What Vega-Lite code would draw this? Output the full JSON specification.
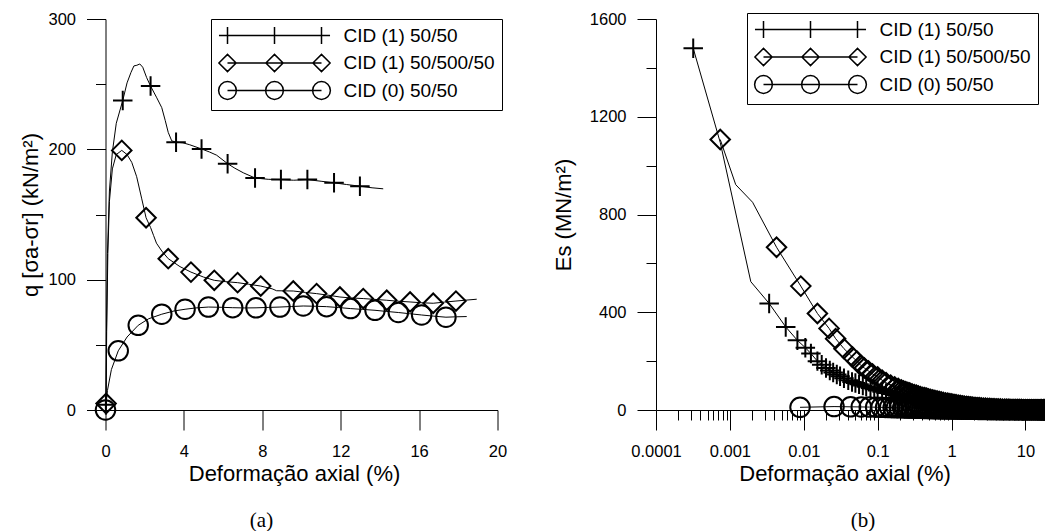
{
  "$schema": "https://vega.github.io/schema/vega-lite/v6.json",
  "padding": {"left": 19.5, "top": 11, "right": 0, "bottom": 0},
  "background": "white",
  "spacing": 44.5,
  "resolve": {"scale": {"x": "independent", "y": "independent", "shape": "independent"}, "legend": {"shape": "independent"}},
  "config": {
    "font": "Liberation Sans",
    "view": {"stroke": null},
    "axis": {"domainColor": "black", "tickColor": "black", "labelColor": "black", "titleColor": "black", "labelFont": "Liberation Sans", "titleFont": "Liberation Sans", "labelFontSize": 16.5, "titleFontSize": 22, "titleFontWeight": "normal", "grid": false, "domainWidth": 1, "tickWidth": 1, "labelOverlap": false, "labelFlush": false},
    "legend": {"labelFont": "Liberation Sans", "labelFontSize": 19, "labelColor": "black", "labelOffset": 59.5, "symbolOffset": 47, "labelLimit": 400, "padding": 7, "rowPadding": 2.5, "strokeColor": "black", "fillColor": "white", "symbolSize": 256, "symbolStrokeWidth": 1.5, "symbolStrokeColor": "black", "symbolFillColor": "transparent", "symbolOpacity": 1},
    "title": {"font": "Liberation Serif", "fontSize": 21, "fontWeight": "normal", "color": "black"}
  },
  "hconcat": [
    {
      "width": 392,
      "height": 391,
      "title": {"text": "(a)", "orient": "bottom", "frame": "group", "anchor": "middle", "dx": -40, "offset": 25},
      "resolve": {"scale": {"shape": "independent"}, "legend": {"shape": "independent"}},
      "data": {"values": [
        {"s": "CID (1) 50/50", "x": 0, "y": 0, "m": 0},
        {"s": "CID (1) 50/50", "x": 0.02, "y": 4, "m": 1},
        {"s": "CID (1) 50/50", "x": 0.05, "y": 60, "m": 0},
        {"s": "CID (1) 50/50", "x": 0.1, "y": 120, "m": 0},
        {"s": "CID (1) 50/50", "x": 0.2, "y": 168, "m": 0},
        {"s": "CID (1) 50/50", "x": 0.35, "y": 198, "m": 0},
        {"s": "CID (1) 50/50", "x": 0.55, "y": 220, "m": 0},
        {"s": "CID (1) 50/50", "x": 0.88, "y": 237.5, "m": 1},
        {"s": "CID (1) 50/50", "x": 1.1, "y": 251, "m": 0},
        {"s": "CID (1) 50/50", "x": 1.3, "y": 259, "m": 0},
        {"s": "CID (1) 50/50", "x": 1.45, "y": 264, "m": 0},
        {"s": "CID (1) 50/50", "x": 1.6, "y": 264.5, "m": 0},
        {"s": "CID (1) 50/50", "x": 1.75, "y": 265.5, "m": 0},
        {"s": "CID (1) 50/50", "x": 1.9, "y": 263, "m": 0},
        {"s": "CID (1) 50/50", "x": 2.1, "y": 255, "m": 0},
        {"s": "CID (1) 50/50", "x": 2.3, "y": 248.5, "m": 1},
        {"s": "CID (1) 50/50", "x": 2.6, "y": 240, "m": 0},
        {"s": "CID (1) 50/50", "x": 2.87, "y": 232, "m": 0},
        {"s": "CID (1) 50/50", "x": 3.05, "y": 222, "m": 0},
        {"s": "CID (1) 50/50", "x": 3.2, "y": 213, "m": 0},
        {"s": "CID (1) 50/50", "x": 3.38, "y": 206.5, "m": 0},
        {"s": "CID (1) 50/50", "x": 3.6, "y": 205.5, "m": 1},
        {"s": "CID (1) 50/50", "x": 3.95, "y": 205, "m": 0},
        {"s": "CID (1) 50/50", "x": 4.3, "y": 203.5, "m": 0},
        {"s": "CID (1) 50/50", "x": 4.9, "y": 200.3, "m": 1},
        {"s": "CID (1) 50/50", "x": 5.3, "y": 198, "m": 0},
        {"s": "CID (1) 50/50", "x": 5.67, "y": 195.5, "m": 0},
        {"s": "CID (1) 50/50", "x": 6.23, "y": 189, "m": 1},
        {"s": "CID (1) 50/50", "x": 6.6, "y": 185.5, "m": 0},
        {"s": "CID (1) 50/50", "x": 7.03, "y": 182, "m": 0},
        {"s": "CID (1) 50/50", "x": 7.63, "y": 178, "m": 1},
        {"s": "CID (1) 50/50", "x": 8.3, "y": 177, "m": 0},
        {"s": "CID (1) 50/50", "x": 8.95, "y": 176.8, "m": 1},
        {"s": "CID (1) 50/50", "x": 9.6, "y": 176.3, "m": 0},
        {"s": "CID (1) 50/50", "x": 10.3, "y": 176.8, "m": 1},
        {"s": "CID (1) 50/50", "x": 11, "y": 175.5, "m": 0},
        {"s": "CID (1) 50/50", "x": 11.66, "y": 174.3, "m": 1},
        {"s": "CID (1) 50/50", "x": 12.3, "y": 173, "m": 0},
        {"s": "CID (1) 50/50", "x": 12.98, "y": 171.7, "m": 1},
        {"s": "CID (1) 50/50", "x": 13.6, "y": 170.5, "m": 0},
        {"s": "CID (1) 50/50", "x": 14.17, "y": 169.7, "m": 0},
        {"s": "CID (1) 50/500/50", "x": 0, "y": 0, "m": 0},
        {"s": "CID (1) 50/500/50", "x": 0.03, "y": 5, "m": 1},
        {"s": "CID (1) 50/500/50", "x": 0.06, "y": 60, "m": 0},
        {"s": "CID (1) 50/500/50", "x": 0.12, "y": 120, "m": 0},
        {"s": "CID (1) 50/500/50", "x": 0.2, "y": 160, "m": 0},
        {"s": "CID (1) 50/500/50", "x": 0.35, "y": 185, "m": 0},
        {"s": "CID (1) 50/500/50", "x": 0.55, "y": 196, "m": 0},
        {"s": "CID (1) 50/500/50", "x": 0.83, "y": 199.2, "m": 1},
        {"s": "CID (1) 50/500/50", "x": 1.1, "y": 196, "m": 0},
        {"s": "CID (1) 50/500/50", "x": 1.34, "y": 190, "m": 0},
        {"s": "CID (1) 50/500/50", "x": 1.59, "y": 179, "m": 0},
        {"s": "CID (1) 50/500/50", "x": 1.85, "y": 162, "m": 0},
        {"s": "CID (1) 50/500/50", "x": 2.07, "y": 147.5, "m": 1},
        {"s": "CID (1) 50/500/50", "x": 2.3, "y": 140, "m": 0},
        {"s": "CID (1) 50/500/50", "x": 2.45, "y": 134, "m": 0},
        {"s": "CID (1) 50/500/50", "x": 2.6, "y": 128, "m": 0},
        {"s": "CID (1) 50/500/50", "x": 2.87, "y": 122, "m": 0},
        {"s": "CID (1) 50/500/50", "x": 3.2, "y": 116.1, "m": 1},
        {"s": "CID (1) 50/500/50", "x": 3.8, "y": 110, "m": 0},
        {"s": "CID (1) 50/500/50", "x": 4.36, "y": 105.8, "m": 1},
        {"s": "CID (1) 50/500/50", "x": 5, "y": 102, "m": 0},
        {"s": "CID (1) 50/500/50", "x": 5.55, "y": 99.5, "m": 1},
        {"s": "CID (1) 50/500/50", "x": 6.1, "y": 98.5, "m": 0},
        {"s": "CID (1) 50/500/50", "x": 6.74, "y": 97.7, "m": 1},
        {"s": "CID (1) 50/500/50", "x": 7.3, "y": 96.5, "m": 0},
        {"s": "CID (1) 50/500/50", "x": 7.92, "y": 95.1, "m": 1},
        {"s": "CID (1) 50/500/50", "x": 8.5, "y": 93, "m": 0},
        {"s": "CID (1) 50/500/50", "x": 8.73, "y": 91.5, "m": 0},
        {"s": "CID (1) 50/500/50", "x": 9.58, "y": 91.3, "m": 1},
        {"s": "CID (1) 50/500/50", "x": 10.2, "y": 90.2, "m": 0},
        {"s": "CID (1) 50/500/50", "x": 10.77, "y": 89.3, "m": 1},
        {"s": "CID (1) 50/500/50", "x": 11.4, "y": 88, "m": 0},
        {"s": "CID (1) 50/500/50", "x": 11.96, "y": 86.7, "m": 1},
        {"s": "CID (1) 50/500/50", "x": 12.5, "y": 86, "m": 0},
        {"s": "CID (1) 50/500/50", "x": 13.15, "y": 85.5, "m": 1},
        {"s": "CID (1) 50/500/50", "x": 13.8, "y": 84.8, "m": 0},
        {"s": "CID (1) 50/500/50", "x": 14.35, "y": 84.2, "m": 1},
        {"s": "CID (1) 50/500/50", "x": 14.9, "y": 83.5, "m": 0},
        {"s": "CID (1) 50/500/50", "x": 15.54, "y": 82.9, "m": 1},
        {"s": "CID (1) 50/500/50", "x": 16.1, "y": 82.3, "m": 0},
        {"s": "CID (1) 50/500/50", "x": 16.72, "y": 81.9, "m": 1},
        {"s": "CID (1) 50/500/50", "x": 17.3, "y": 82.8, "m": 0},
        {"s": "CID (1) 50/500/50", "x": 17.88, "y": 83.6, "m": 1},
        {"s": "CID (1) 50/500/50", "x": 18.4, "y": 84.3, "m": 0},
        {"s": "CID (1) 50/500/50", "x": 18.94, "y": 85, "m": 0},
        {"s": "CID (0) 50/50", "x": 0, "y": 0, "m": 1},
        {"s": "CID (0) 50/50", "x": 0.1, "y": 15, "m": 0},
        {"s": "CID (0) 50/50", "x": 0.3, "y": 31, "m": 0},
        {"s": "CID (0) 50/50", "x": 0.65, "y": 45.4, "m": 1},
        {"s": "CID (0) 50/50", "x": 1.1, "y": 56, "m": 0},
        {"s": "CID (0) 50/50", "x": 1.67, "y": 65, "m": 1},
        {"s": "CID (0) 50/50", "x": 2.2, "y": 70, "m": 0},
        {"s": "CID (0) 50/50", "x": 2.87, "y": 73.5, "m": 1},
        {"s": "CID (0) 50/50", "x": 3.5, "y": 76, "m": 0},
        {"s": "CID (0) 50/50", "x": 4.06, "y": 77.3, "m": 1},
        {"s": "CID (0) 50/50", "x": 4.6, "y": 78.3, "m": 0},
        {"s": "CID (0) 50/50", "x": 5.25, "y": 79, "m": 1},
        {"s": "CID (0) 50/50", "x": 5.9, "y": 78.8, "m": 0},
        {"s": "CID (0) 50/50", "x": 6.49, "y": 78.5, "m": 1},
        {"s": "CID (0) 50/50", "x": 7.1, "y": 78.3, "m": 0},
        {"s": "CID (0) 50/50", "x": 7.68, "y": 78.4, "m": 1},
        {"s": "CID (0) 50/50", "x": 8.3, "y": 78.7, "m": 0},
        {"s": "CID (0) 50/50", "x": 8.9, "y": 79, "m": 1},
        {"s": "CID (0) 50/50", "x": 9.5, "y": 79.4, "m": 0},
        {"s": "CID (0) 50/50", "x": 10.09, "y": 79.8, "m": 1},
        {"s": "CID (0) 50/50", "x": 10.7, "y": 79.6, "m": 0},
        {"s": "CID (0) 50/50", "x": 11.28, "y": 79.3, "m": 1},
        {"s": "CID (0) 50/50", "x": 11.9, "y": 78.6, "m": 0},
        {"s": "CID (0) 50/50", "x": 12.51, "y": 77.8, "m": 1},
        {"s": "CID (0) 50/50", "x": 13.1, "y": 77.2, "m": 0},
        {"s": "CID (0) 50/50", "x": 13.75, "y": 76.5, "m": 1},
        {"s": "CID (0) 50/50", "x": 14.35, "y": 75.6, "m": 0},
        {"s": "CID (0) 50/50", "x": 14.94, "y": 74.8, "m": 1},
        {"s": "CID (0) 50/50", "x": 15.5, "y": 73.9, "m": 0},
        {"s": "CID (0) 50/50", "x": 16.13, "y": 72.9, "m": 1},
        {"s": "CID (0) 50/50", "x": 16.75, "y": 72, "m": 0},
        {"s": "CID (0) 50/50", "x": 17.37, "y": 71.2, "m": 1},
        {"s": "CID (0) 50/50", "x": 17.9, "y": 71.5, "m": 0},
        {"s": "CID (0) 50/50", "x": 18.43, "y": 71.7, "m": 0}
      ]},
      "layer": [
        {
          "mark": {"type": "line", "color": "black", "strokeWidth": 1},
          "encoding": {
            "x": {"field": "x", "type": "quantitative", "scale": {"domain": [0, 20], "nice": false, "zero": false},
              "axis": {"title": "Deformação axial (%)", "values": [0,1,2,3,4,5,6,7,8,9,10,11,12,13,14,15,16,17,18,19,20],
                "tickSize": {"condition": {"test": "datum.value % 4 == 0", "value": 20}, "value": 10},
                "labelExpr": "datum.value % 4 == 0 ? datum.label : ''", "labelPadding": 13, "titlePadding": 4, "titleX": 188.5}},
            "y": {"field": "y", "type": "quantitative", "scale": {"domain": [0, 300], "nice": false},
              "axis": {"title": "q [σa-σr] (kN/m²)", "values": [0,25,50,75,100,125,150,175,200,225,250,275,300],
                "tickSize": {"condition": {"test": "datum.value % 100 == 0", "value": 19}, "value": 10},
                "labelExpr": "datum.value % 100 == 0 ? datum.label : ''", "labelPadding": 11, "titlePadding": 5}},
            "detail": {"field": "s"}
          }
        },
        {
          "transform": [{"filter": "datum.m == 1"}],
          "mark": {"type": "point", "filled": false, "color": "black", "strokeWidth": 2, "size": 380, "opacity": 1},
          "encoding": {
            "x": {"field": "x", "type": "quantitative"},
            "y": {"field": "y", "type": "quantitative"},
            "shape": {"field": "s", "type": "nominal", "legend": null,
              "scale": {"domain": ["CID (1) 50/50", "CID (1) 50/500/50", "CID (0) 50/50"], "range": ["M-1,0H1M0,-1V1", "diamond", "circle"]}}
          }
        },
        {
          "transform": [{"filter": "datum.m == 9"}],
          "mark": {"type": "point", "filled": false, "color": "black", "strokeWidth": 1.5},
          "encoding": {
            "x": {"field": "x", "type": "quantitative"},
            "y": {"field": "y", "type": "quantitative"},
            "shape": {"field": "s", "type": "nominal",
              "scale": {"domain": ["CID (1) 50/50", "CID (1) 50/500/50", "CID (0) 50/50"], "range": [
                "M-6.94,0H6.94M-5.875,-1.075V1.075M0,-1.075V1.075M5.875,-1.075V1.075",
                "M-5.875,0H5.875M-6.95,0L-5.875,-1.075L-4.8,0L-5.875,1.075ZM-1.075,0L0,-1.075L1.075,0L0,1.075ZM4.8,0L5.875,-1.075L6.95,0L5.875,1.075Z",
                "M-5.875,0H5.875M-6.985,0A1.11,1.11,0,1,0,-4.765,0A1.11,1.11,0,1,0,-6.985,0ZM-1.11,0A1.11,1.11,0,1,0,1.11,0A1.11,1.11,0,1,0,-1.11,0ZM4.765,0A1.11,1.11,0,1,0,6.985,0A1.11,1.11,0,1,0,4.765,0Z"]},
              "legend": {"title": null, "orient": "none", "legendX": 105.5, "legendY": 0}}
          }
        }
      ]
    },
    {
      "width": 390,
      "height": 391,
      "title": {"text": "(b)", "orient": "bottom", "frame": "group", "anchor": "middle", "dx": 12, "offset": 25},
      "resolve": {"scale": {"shape": "independent"}, "legend": {"shape": "independent"}},
      "data": {"values": [
        {"s": "CID (1) 50/50", "x": 0.000319, "y": 1480, "m": 1},
        {"s": "CID (1) 50/50", "x": 0.00074, "y": 1095, "m": 0},
        {"s": "CID (1) 50/50", "x": 0.00192, "y": 525, "m": 0},
        {"s": "CID (1) 50/50", "x": 0.0034, "y": 436, "m": 1},
        {"s": "CID (1) 50/50", "x": 0.0057, "y": 340, "m": 1},
        {"s": "CID (1) 50/50", "x": 0.0082, "y": 285, "m": 1},
        {"s": "CID (1) 50/50", "x": 0.0105, "y": 255, "m": 1},
        {"s": "CID (1) 50/50", "x": 0.0125, "y": 231, "m": 1},
        {"s": "CID (1) 50/50", "x": 0.0153, "y": 200, "m": 1},
        {"s": "CID (1) 50/50", "x": 0.0175, "y": 185, "m": 1},
        {"s": "CID (1) 50/50", "x": 0.02, "y": 172, "m": 1},
        {"s": "CID (1) 50/50", "x": 0.0225, "y": 162, "m": 1},
        {"s": "CID (1) 50/50", "x": 0.025, "y": 153, "m": 1},
        {"s": "CID (1) 50/50", "x": 0.028, "y": 145, "m": 1},
        {"s": "CID (1) 50/50", "x": 0.031, "y": 138, "m": 1},
        {"s": "CID (1) 50/50", "x": 0.035, "y": 130, "m": 1},
        {"s": "CID (1) 50/50", "x": 0.04, "y": 122, "m": 1},
        {"s": "CID (1) 50/50", "x": 0.045, "y": 115, "m": 1},
        {"s": "CID (1) 50/50", "x": 0.05, "y": 110, "m": 1},
        {"s": "CID (1) 50/50", "x": 0.056, "y": 105, "m": 1},
        {"s": "CID (1) 50/50", "x": 0.063, "y": 100, "m": 1},
        {"s": "CID (1) 50/50", "x": 0.07, "y": 95, "m": 1},
        {"s": "CID (1) 50/50", "x": 0.08, "y": 90, "m": 1},
        {"s": "CID (1) 50/50", "x": 0.09, "y": 85, "m": 1},
        {"s": "CID (1) 50/50", "x": 0.1, "y": 80, "m": 1},
        {"s": "CID (1) 50/50", "x": 0.115, "y": 75, "m": 1},
        {"s": "CID (1) 50/50", "x": 0.13, "y": 70, "m": 1},
        {"s": "CID (1) 50/50", "x": 0.15, "y": 65, "m": 1},
        {"s": "CID (1) 50/50", "x": 0.17, "y": 61, "m": 1},
        {"s": "CID (1) 50/50", "x": 0.185, "y": 58, "m": 1},
        {"s": "CID (1) 50/50", "x": 0.2, "y": 56, "m": 1},
        {"s": "CID (1) 50/50", "x": 0.215, "y": 54, "m": 1},
        {"s": "CID (1) 50/50", "x": 0.23, "y": 52, "m": 1},
        {"s": "CID (1) 50/50", "x": 0.245, "y": 50.5, "m": 1},
        {"s": "CID (1) 50/50", "x": 0.26, "y": 49, "m": 1},
        {"s": "CID (1) 50/50", "x": 0.28, "y": 47.5, "m": 1},
        {"s": "CID (1) 50/50", "x": 0.3, "y": 46, "m": 1},
        {"s": "CID (1) 50/50", "x": 0.32, "y": 44.5, "m": 1},
        {"s": "CID (1) 50/50", "x": 0.34, "y": 43, "m": 1},
        {"s": "CID (1) 50/50", "x": 0.365, "y": 41.5, "m": 1},
        {"s": "CID (1) 50/50", "x": 0.39, "y": 40, "m": 1},
        {"s": "CID (1) 50/50", "x": 0.415, "y": 38.7, "m": 1},
        {"s": "CID (1) 50/50", "x": 0.44, "y": 37.5, "m": 1},
        {"s": "CID (1) 50/50", "x": 0.47, "y": 36.2, "m": 1},
        {"s": "CID (1) 50/50", "x": 0.5, "y": 35, "m": 1},
        {"s": "CID (1) 50/50", "x": 0.535, "y": 33.7, "m": 1},
        {"s": "CID (1) 50/50", "x": 0.57, "y": 32.5, "m": 1},
        {"s": "CID (1) 50/50", "x": 0.61, "y": 31.2, "m": 1},
        {"s": "CID (1) 50/50", "x": 0.65, "y": 30, "m": 1},
        {"s": "CID (1) 50/50", "x": 0.695, "y": 29, "m": 1},
        {"s": "CID (1) 50/50", "x": 0.74, "y": 28, "m": 1},
        {"s": "CID (1) 50/50", "x": 0.795, "y": 27, "m": 1},
        {"s": "CID (1) 50/50", "x": 0.85, "y": 26, "m": 1},
        {"s": "CID (1) 50/50", "x": 0.91, "y": 25.2, "m": 1},
        {"s": "CID (1) 50/50", "x": 0.97, "y": 24.5, "m": 1},
        {"s": "CID (1) 50/50", "x": 1.04, "y": 23.5, "m": 1},
        {"s": "CID (1) 50/50", "x": 1.1, "y": 22.5, "m": 1},
        {"s": "CID (1) 50/50", "x": 1.17, "y": 21.2, "m": 1},
        {"s": "CID (1) 50/50", "x": 1.25, "y": 20, "m": 1},
        {"s": "CID (1) 50/50", "x": 1.34, "y": 19, "m": 1},
        {"s": "CID (1) 50/50", "x": 1.43, "y": 18, "m": 1},
        {"s": "CID (1) 50/50", "x": 1.53, "y": 17, "m": 1},
        {"s": "CID (1) 50/50", "x": 1.63, "y": 16, "m": 1},
        {"s": "CID (1) 50/50", "x": 1.74, "y": 15, "m": 1},
        {"s": "CID (1) 50/50", "x": 1.86, "y": 14, "m": 1},
        {"s": "CID (1) 50/50", "x": 1.99, "y": 13.1, "m": 1},
        {"s": "CID (1) 50/50", "x": 2.12, "y": 12.2, "m": 1},
        {"s": "CID (1) 50/50", "x": 2.27, "y": 11.3, "m": 1},
        {"s": "CID (1) 50/50", "x": 2.42, "y": 10.5, "m": 1},
        {"s": "CID (1) 50/50", "x": 2.59, "y": 9.6, "m": 1},
        {"s": "CID (1) 50/50", "x": 2.76, "y": 8.8, "m": 1},
        {"s": "CID (1) 50/50", "x": 2.95, "y": 8, "m": 1},
        {"s": "CID (1) 50/50", "x": 3.15, "y": 7.2, "m": 1},
        {"s": "CID (1) 50/50", "x": 3.37, "y": 6.6, "m": 1},
        {"s": "CID (1) 50/50", "x": 3.6, "y": 6, "m": 1},
        {"s": "CID (1) 50/50", "x": 3.85, "y": 5.5, "m": 1},
        {"s": "CID (1) 50/50", "x": 4.1, "y": 5.1, "m": 1},
        {"s": "CID (1) 50/50", "x": 4.4, "y": 4.7, "m": 1},
        {"s": "CID (1) 50/50", "x": 4.7, "y": 4.3, "m": 1},
        {"s": "CID (1) 50/50", "x": 5.02, "y": 4, "m": 1},
        {"s": "CID (1) 50/50", "x": 5.35, "y": 3.7, "m": 1},
        {"s": "CID (1) 50/50", "x": 5.72, "y": 3.4, "m": 1},
        {"s": "CID (1) 50/50", "x": 6.1, "y": 3.1, "m": 1},
        {"s": "CID (1) 50/50", "x": 6.52, "y": 2.85, "m": 1},
        {"s": "CID (1) 50/50", "x": 6.95, "y": 2.6, "m": 1},
        {"s": "CID (1) 50/50", "x": 7.42, "y": 2.45, "m": 1},
        {"s": "CID (1) 50/50", "x": 7.9, "y": 2.3, "m": 1},
        {"s": "CID (1) 50/50", "x": 8.45, "y": 2.15, "m": 1},
        {"s": "CID (1) 50/50", "x": 9, "y": 2, "m": 1},
        {"s": "CID (1) 50/50", "x": 9.65, "y": 1.87, "m": 1},
        {"s": "CID (1) 50/50", "x": 10.3, "y": 1.75, "m": 1},
        {"s": "CID (1) 50/50", "x": 11, "y": 1.62, "m": 1},
        {"s": "CID (1) 50/50", "x": 11.7, "y": 1.5, "m": 1},
        {"s": "CID (1) 50/50", "x": 12.5, "y": 1.4, "m": 1},
        {"s": "CID (1) 50/50", "x": 13.3, "y": 1.3, "m": 1},
        {"s": "CID (1) 50/50", "x": 13.8, "y": 1.25, "m": 1},
        {"s": "CID (1) 50/50", "x": 14.2, "y": 1.2, "m": 1},
        {"s": "CID (1) 50/500/50", "x": 0.00074, "y": 1107, "m": 1},
        {"s": "CID (1) 50/500/50", "x": 0.0012, "y": 922, "m": 0},
        {"s": "CID (1) 50/500/50", "x": 0.00203, "y": 850, "m": 0},
        {"s": "CID (1) 50/500/50", "x": 0.00428, "y": 666, "m": 1},
        {"s": "CID (1) 50/500/50", "x": 0.00912, "y": 507, "m": 1},
        {"s": "CID (1) 50/500/50", "x": 0.0153, "y": 395, "m": 1},
        {"s": "CID (1) 50/500/50", "x": 0.022, "y": 334, "m": 1},
        {"s": "CID (1) 50/500/50", "x": 0.027, "y": 292, "m": 1},
        {"s": "CID (1) 50/500/50", "x": 0.035, "y": 251, "m": 1},
        {"s": "CID (1) 50/500/50", "x": 0.0455, "y": 217, "m": 1},
        {"s": "CID (1) 50/500/50", "x": 0.0525, "y": 200, "m": 1},
        {"s": "CID (1) 50/500/50", "x": 0.0589, "y": 183, "m": 1},
        {"s": "CID (1) 50/500/50", "x": 0.066, "y": 172, "m": 1},
        {"s": "CID (1) 50/500/50", "x": 0.075, "y": 160, "m": 1},
        {"s": "CID (1) 50/500/50", "x": 0.085, "y": 148, "m": 1},
        {"s": "CID (1) 50/500/50", "x": 0.1, "y": 135, "m": 1},
        {"s": "CID (1) 50/500/50", "x": 0.115, "y": 122, "m": 1},
        {"s": "CID (1) 50/500/50", "x": 0.13, "y": 112, "m": 1},
        {"s": "CID (1) 50/500/50", "x": 0.15, "y": 102, "m": 1},
        {"s": "CID (1) 50/500/50", "x": 0.17, "y": 94, "m": 1},
        {"s": "CID (1) 50/500/50", "x": 0.19, "y": 88, "m": 1},
        {"s": "CID (1) 50/500/50", "x": 0.209, "y": 82, "m": 1},
        {"s": "CID (1) 50/500/50", "x": 0.224, "y": 78.5, "m": 1},
        {"s": "CID (1) 50/500/50", "x": 0.24, "y": 75, "m": 1},
        {"s": "CID (1) 50/500/50", "x": 0.256, "y": 72, "m": 1},
        {"s": "CID (1) 50/500/50", "x": 0.272, "y": 69.5, "m": 1},
        {"s": "CID (1) 50/500/50", "x": 0.292, "y": 66, "m": 1},
        {"s": "CID (1) 50/500/50", "x": 0.313, "y": 63, "m": 1},
        {"s": "CID (1) 50/500/50", "x": 0.334, "y": 60.5, "m": 1},
        {"s": "CID (1) 50/500/50", "x": 0.355, "y": 58, "m": 1},
        {"s": "CID (1) 50/500/50", "x": 0.38, "y": 55, "m": 1},
        {"s": "CID (1) 50/500/50", "x": 0.407, "y": 52, "m": 1},
        {"s": "CID (1) 50/500/50", "x": 0.433, "y": 50, "m": 1},
        {"s": "CID (1) 50/500/50", "x": 0.46, "y": 48, "m": 1},
        {"s": "CID (1) 50/500/50", "x": 0.49, "y": 45.7, "m": 1},
        {"s": "CID (1) 50/500/50", "x": 0.52, "y": 43.5, "m": 1},
        {"s": "CID (1) 50/500/50", "x": 0.557, "y": 41.3, "m": 1},
        {"s": "CID (1) 50/500/50", "x": 0.595, "y": 39.3, "m": 1},
        {"s": "CID (1) 50/500/50", "x": 0.637, "y": 37, "m": 1},
        {"s": "CID (1) 50/500/50", "x": 0.68, "y": 35, "m": 1},
        {"s": "CID (1) 50/500/50", "x": 0.725, "y": 33, "m": 1},
        {"s": "CID (1) 50/500/50", "x": 0.773, "y": 31, "m": 1},
        {"s": "CID (1) 50/500/50", "x": 0.83, "y": 29.3, "m": 1},
        {"s": "CID (1) 50/500/50", "x": 0.89, "y": 27.8, "m": 1},
        {"s": "CID (1) 50/500/50", "x": 0.95, "y": 26.2, "m": 1},
        {"s": "CID (1) 50/500/50", "x": 1.01, "y": 24.8, "m": 1},
        {"s": "CID (1) 50/500/50", "x": 1.08, "y": 23.2, "m": 1},
        {"s": "CID (1) 50/500/50", "x": 1.15, "y": 21.6, "m": 1},
        {"s": "CID (1) 50/500/50", "x": 1.23, "y": 20, "m": 1},
        {"s": "CID (1) 50/500/50", "x": 1.31, "y": 18.5, "m": 1},
        {"s": "CID (1) 50/500/50", "x": 1.4, "y": 17.1, "m": 1},
        {"s": "CID (1) 50/500/50", "x": 1.49, "y": 15.8, "m": 1},
        {"s": "CID (1) 50/500/50", "x": 1.6, "y": 14.6, "m": 1},
        {"s": "CID (1) 50/500/50", "x": 1.7, "y": 13.5, "m": 1},
        {"s": "CID (1) 50/500/50", "x": 1.82, "y": 12.4, "m": 1},
        {"s": "CID (1) 50/500/50", "x": 1.94, "y": 11.4, "m": 1},
        {"s": "CID (1) 50/500/50", "x": 2.08, "y": 10.6, "m": 1},
        {"s": "CID (1) 50/500/50", "x": 2.22, "y": 9.9, "m": 1},
        {"s": "CID (1) 50/500/50", "x": 2.37, "y": 9.1, "m": 1},
        {"s": "CID (1) 50/500/50", "x": 2.53, "y": 8.3, "m": 1},
        {"s": "CID (1) 50/500/50", "x": 2.7, "y": 7.7, "m": 1},
        {"s": "CID (1) 50/500/50", "x": 2.88, "y": 7.1, "m": 1},
        {"s": "CID (1) 50/500/50", "x": 3.08, "y": 6.5, "m": 1},
        {"s": "CID (1) 50/500/50", "x": 3.29, "y": 6, "m": 1},
        {"s": "CID (1) 50/500/50", "x": 3.52, "y": 5.6, "m": 1},
        {"s": "CID (1) 50/500/50", "x": 3.76, "y": 5.2, "m": 1},
        {"s": "CID (1) 50/500/50", "x": 4.02, "y": 4.85, "m": 1},
        {"s": "CID (1) 50/500/50", "x": 4.28, "y": 4.5, "m": 1},
        {"s": "CID (1) 50/500/50", "x": 4.58, "y": 4.15, "m": 1},
        {"s": "CID (1) 50/500/50", "x": 4.9, "y": 3.8, "m": 1},
        {"s": "CID (1) 50/500/50", "x": 5.25, "y": 3.5, "m": 1},
        {"s": "CID (1) 50/500/50", "x": 5.6, "y": 3.25, "m": 1},
        {"s": "CID (1) 50/500/50", "x": 5.98, "y": 3, "m": 1},
        {"s": "CID (1) 50/500/50", "x": 6.37, "y": 2.75, "m": 1},
        {"s": "CID (1) 50/500/50", "x": 6.8, "y": 2.6, "m": 1},
        {"s": "CID (1) 50/500/50", "x": 7.26, "y": 2.4, "m": 1},
        {"s": "CID (1) 50/500/50", "x": 7.75, "y": 2.25, "m": 1},
        {"s": "CID (1) 50/500/50", "x": 8.25, "y": 2.1, "m": 1},
        {"s": "CID (1) 50/500/50", "x": 8.8, "y": 1.97, "m": 1},
        {"s": "CID (1) 50/500/50", "x": 9.4, "y": 1.85, "m": 1},
        {"s": "CID (1) 50/500/50", "x": 10.05, "y": 1.72, "m": 1},
        {"s": "CID (1) 50/500/50", "x": 10.75, "y": 1.6, "m": 1},
        {"s": "CID (1) 50/500/50", "x": 11.45, "y": 1.5, "m": 1},
        {"s": "CID (1) 50/500/50", "x": 12.2, "y": 1.4, "m": 1},
        {"s": "CID (1) 50/500/50", "x": 13.05, "y": 1.3, "m": 1},
        {"s": "CID (1) 50/500/50", "x": 13.9, "y": 1.2, "m": 1},
        {"s": "CID (1) 50/500/50", "x": 14.8, "y": 1.12, "m": 1},
        {"s": "CID (1) 50/500/50", "x": 15.8, "y": 1.05, "m": 1},
        {"s": "CID (1) 50/500/50", "x": 16.6, "y": 1.02, "m": 1},
        {"s": "CID (1) 50/500/50", "x": 17.5, "y": 0.98, "m": 1},
        {"s": "CID (1) 50/500/50", "x": 18.2, "y": 0.94, "m": 1},
        {"s": "CID (1) 50/500/50", "x": 18.9, "y": 0.9, "m": 1},
        {"s": "CID (0) 50/50", "x": 0.0089, "y": 11, "m": 1},
        {"s": "CID (0) 50/50", "x": 0.0257, "y": 14, "m": 1},
        {"s": "CID (0) 50/50", "x": 0.043, "y": 13, "m": 1},
        {"s": "CID (0) 50/50", "x": 0.06, "y": 12.5, "m": 1},
        {"s": "CID (0) 50/50", "x": 0.077, "y": 12, "m": 1},
        {"s": "CID (0) 50/50", "x": 0.094, "y": 11.5, "m": 1},
        {"s": "CID (0) 50/50", "x": 0.111, "y": 11, "m": 1},
        {"s": "CID (0) 50/50", "x": 0.128, "y": 10.5, "m": 1},
        {"s": "CID (0) 50/50", "x": 0.145, "y": 10.1, "m": 1},
        {"s": "CID (0) 50/50", "x": 0.162, "y": 9.7, "m": 1},
        {"s": "CID (0) 50/50", "x": 0.179, "y": 9.3, "m": 1},
        {"s": "CID (0) 50/50", "x": 0.196, "y": 9, "m": 1},
        {"s": "CID (0) 50/50", "x": 0.218, "y": 8.7, "m": 1},
        {"s": "CID (0) 50/50", "x": 0.234, "y": 8.5, "m": 1},
        {"s": "CID (0) 50/50", "x": 0.25, "y": 8.3, "m": 1},
        {"s": "CID (0) 50/50", "x": 0.266, "y": 8.1, "m": 1},
        {"s": "CID (0) 50/50", "x": 0.283, "y": 7.9, "m": 1},
        {"s": "CID (0) 50/50", "x": 0.305, "y": 7.7, "m": 1},
        {"s": "CID (0) 50/50", "x": 0.327, "y": 7.5, "m": 1},
        {"s": "CID (0) 50/50", "x": 0.348, "y": 7.25, "m": 1},
        {"s": "CID (0) 50/50", "x": 0.37, "y": 7, "m": 1},
        {"s": "CID (0) 50/50", "x": 0.397, "y": 6.8, "m": 1},
        {"s": "CID (0) 50/50", "x": 0.425, "y": 6.6, "m": 1},
        {"s": "CID (0) 50/50", "x": 0.452, "y": 6.4, "m": 1},
        {"s": "CID (0) 50/50", "x": 0.48, "y": 6.2, "m": 1},
        {"s": "CID (0) 50/50", "x": 0.512, "y": 6, "m": 1},
        {"s": "CID (0) 50/50", "x": 0.545, "y": 5.8, "m": 1},
        {"s": "CID (0) 50/50", "x": 0.582, "y": 5.6, "m": 1},
        {"s": "CID (0) 50/50", "x": 0.62, "y": 5.4, "m": 1},
        {"s": "CID (0) 50/50", "x": 0.665, "y": 5.2, "m": 1},
        {"s": "CID (0) 50/50", "x": 0.71, "y": 5, "m": 1},
        {"s": "CID (0) 50/50", "x": 0.757, "y": 4.85, "m": 1},
        {"s": "CID (0) 50/50", "x": 0.806, "y": 4.7, "m": 1},
        {"s": "CID (0) 50/50", "x": 0.866, "y": 4.5, "m": 1},
        {"s": "CID (0) 50/50", "x": 0.93, "y": 4.3, "m": 1},
        {"s": "CID (0) 50/50", "x": 0.995, "y": 4.15, "m": 1},
        {"s": "CID (0) 50/50", "x": 1.06, "y": 4, "m": 1},
        {"s": "CID (0) 50/50", "x": 1.13, "y": 3.85, "m": 1},
        {"s": "CID (0) 50/50", "x": 1.2, "y": 3.7, "m": 1},
        {"s": "CID (0) 50/50", "x": 1.28, "y": 3.6, "m": 1},
        {"s": "CID (0) 50/50", "x": 1.36, "y": 3.45, "m": 1},
        {"s": "CID (0) 50/50", "x": 1.46, "y": 3.3, "m": 1},
        {"s": "CID (0) 50/50", "x": 1.56, "y": 3.15, "m": 1},
        {"s": "CID (0) 50/50", "x": 1.67, "y": 3.02, "m": 1},
        {"s": "CID (0) 50/50", "x": 1.78, "y": 2.9, "m": 1},
        {"s": "CID (0) 50/50", "x": 1.9, "y": 2.8, "m": 1},
        {"s": "CID (0) 50/50", "x": 2.03, "y": 2.7, "m": 1},
        {"s": "CID (0) 50/50", "x": 2.17, "y": 2.57, "m": 1},
        {"s": "CID (0) 50/50", "x": 2.31, "y": 2.45, "m": 1},
        {"s": "CID (0) 50/50", "x": 2.47, "y": 2.32, "m": 1},
        {"s": "CID (0) 50/50", "x": 2.64, "y": 2.2, "m": 1},
        {"s": "CID (0) 50/50", "x": 2.82, "y": 2.1, "m": 1},
        {"s": "CID (0) 50/50", "x": 3.01, "y": 2, "m": 1},
        {"s": "CID (0) 50/50", "x": 3.22, "y": 1.92, "m": 1},
        {"s": "CID (0) 50/50", "x": 3.43, "y": 1.85, "m": 1},
        {"s": "CID (0) 50/50", "x": 3.67, "y": 1.75, "m": 1},
        {"s": "CID (0) 50/50", "x": 3.92, "y": 1.65, "m": 1},
        {"s": "CID (0) 50/50", "x": 4.19, "y": 1.55, "m": 1},
        {"s": "CID (0) 50/50", "x": 4.47, "y": 1.45, "m": 1},
        {"s": "CID (0) 50/50", "x": 4.79, "y": 1.37, "m": 1},
        {"s": "CID (0) 50/50", "x": 5.12, "y": 1.3, "m": 1},
        {"s": "CID (0) 50/50", "x": 5.47, "y": 1.24, "m": 1},
        {"s": "CID (0) 50/50", "x": 5.83, "y": 1.18, "m": 1},
        {"s": "CID (0) 50/50", "x": 6.23, "y": 1.13, "m": 1},
        {"s": "CID (0) 50/50", "x": 6.65, "y": 1.08, "m": 1},
        {"s": "CID (0) 50/50", "x": 7.1, "y": 1.04, "m": 1},
        {"s": "CID (0) 50/50", "x": 7.58, "y": 1, "m": 1},
        {"s": "CID (0) 50/50", "x": 8.08, "y": 0.95, "m": 1},
        {"s": "CID (0) 50/50", "x": 8.61, "y": 0.9, "m": 1},
        {"s": "CID (0) 50/50", "x": 9.2, "y": 0.86, "m": 1},
        {"s": "CID (0) 50/50", "x": 9.81, "y": 0.82, "m": 1},
        {"s": "CID (0) 50/50", "x": 10.5, "y": 0.77, "m": 1},
        {"s": "CID (0) 50/50", "x": 11.2, "y": 0.72, "m": 1},
        {"s": "CID (0) 50/50", "x": 11.95, "y": 0.67, "m": 1},
        {"s": "CID (0) 50/50", "x": 12.75, "y": 0.62, "m": 1},
        {"s": "CID (0) 50/50", "x": 13.6, "y": 0.58, "m": 1},
        {"s": "CID (0) 50/50", "x": 14.5, "y": 0.53, "m": 1},
        {"s": "CID (0) 50/50", "x": 15.4, "y": 0.5, "m": 1},
        {"s": "CID (0) 50/50", "x": 16.3, "y": 0.47, "m": 1},
        {"s": "CID (0) 50/50", "x": 17.3, "y": 0.43, "m": 1},
        {"s": "CID (0) 50/50", "x": 18.4, "y": 0.4, "m": 1}
      ]},
      "layer": [
        {
          "mark": {"type": "line", "color": "black", "strokeWidth": 1},
          "encoding": {
            "x": {"field": "x", "type": "quantitative", "scale": {"type": "log", "domain": [0.0001, 19], "nice": false},
              "axis": {"title": "Deformação axial (%)",
                "values": [0.0001,0.0002,0.0003,0.0004,0.0005,0.0006,0.0007,0.0008,0.0009,0.001,0.002,0.003,0.004,0.005,0.006,0.007,0.008,0.009,0.01,0.02,0.03,0.04,0.05,0.06,0.07,0.08,0.09,0.1,0.2,0.3,0.4,0.5,0.6,0.7,0.8,0.9,1,2,3,4,5,6,7,8,9,10],
                "tickSize": {"condition": {"test": "indexof([0.0001,0.001,0.01,0.1,1,10], datum.value) >= 0", "value": 20}, "value": 10},
                "labelExpr": "indexof([0.0001,0.001,0.01,0.1,1,10], datum.value) >= 0 ? format(datum.value, '~g') : ''",
                "labelPadding": 13, "titlePadding": 4, "titleX": 188.5}},
            "y": {"field": "y", "type": "quantitative", "scale": {"domain": [0, 1600], "nice": false},
              "axis": {"title": "Es (MN/m²)", "values": [0,100,200,300,400,500,600,700,800,900,1000,1100,1200,1300,1400,1500,1600],
                "tickSize": {"condition": {"test": "datum.value % 400 == 0", "value": 19}, "value": 10},
                "labelExpr": "datum.value % 400 == 0 ? datum.label : ''", "labelPadding": 11, "titlePadding": 14, "format": "d"}},
            "detail": {"field": "s"}
          }
        },
        {
          "transform": [{"filter": "datum.m == 1"}],
          "mark": {"type": "point", "filled": false, "color": "black", "strokeWidth": 2, "size": 380, "opacity": 1},
          "encoding": {
            "x": {"field": "x", "type": "quantitative"},
            "y": {"field": "y", "type": "quantitative"},
            "shape": {"field": "s", "type": "nominal", "legend": null,
              "scale": {"domain": ["CID (1) 50/50", "CID (1) 50/500/50", "CID (0) 50/50"], "range": ["M-1,0H1M0,-1V1", "diamond", "circle"]}}
          }
        },
        {
          "transform": [{"filter": "datum.m == 9"}],
          "mark": {"type": "point", "filled": false, "color": "black", "strokeWidth": 1.5},
          "encoding": {
            "x": {"field": "x", "type": "quantitative"},
            "y": {"field": "y", "type": "quantitative"},
            "shape": {"field": "s", "type": "nominal",
              "scale": {"domain": ["CID (1) 50/50", "CID (1) 50/500/50", "CID (0) 50/50"], "range": [
                "M-6.94,0H6.94M-5.875,-1.075V1.075M0,-1.075V1.075M5.875,-1.075V1.075",
                "M-5.875,0H5.875M-6.95,0L-5.875,-1.075L-4.8,0L-5.875,1.075ZM-1.075,0L0,-1.075L1.075,0L0,1.075ZM4.8,0L5.875,-1.075L6.95,0L5.875,1.075Z",
                "M-5.875,0H5.875M-6.985,0A1.11,1.11,0,1,0,-4.765,0A1.11,1.11,0,1,0,-6.985,0ZM-1.11,0A1.11,1.11,0,1,0,1.11,0A1.11,1.11,0,1,0,-1.11,0ZM4.765,0A1.11,1.11,0,1,0,6.985,0A1.11,1.11,0,1,0,4.765,0Z"]},
              "legend": {"title": null, "orient": "none", "legendX": 91, "legendY": -6}}
          }
        }
      ]
    }
  ]
}
